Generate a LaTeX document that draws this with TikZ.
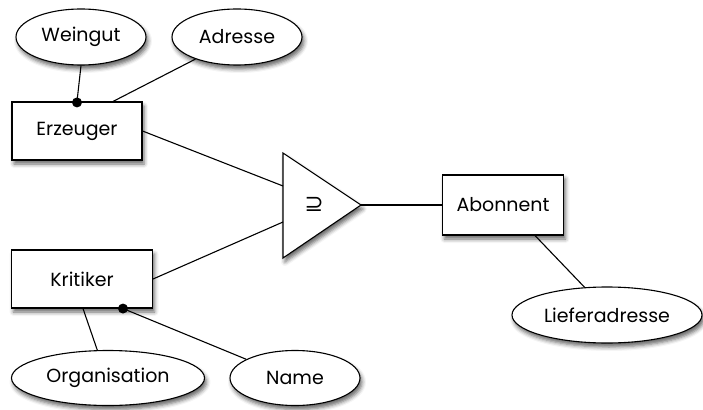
\documentclass[tikz,border=0pt]{standalone}
\usepackage{fontspec}
\setmainfont{Poppins}
\newfontfamily\symfont{DejaVu Sans}
\usetikzlibrary{shapes.geometric,shadows.blur}
\begin{document}
\begin{tikzpicture}[x=1pt,y=-1pt,
  every node/.style={font=\fontsize{19}{22}\selectfont},
  soft/.style={blur shadow={shadow xshift=2pt,shadow yshift=-4pt,shadow blur radius=4pt,shadow opacity=60}},
  entity/.style={rectangle,draw,fill=white,line width=1.1pt,minimum width=#1,minimum height=58pt,inner sep=0pt,soft},
  attrib/.style={ellipse,draw,fill=white,line width=1.1pt,minimum width=#1,minimum height=56pt,inner sep=0pt,soft},
  link/.style={line width=1.1pt},
  dot/.style={fill=black}]
\useasboundingbox (0,0) rectangle (703,409);

% entities
\node[entity=130pt] (erz) at (77,131) {Erzeuger};
\node[entity=141pt] (krit) at (82,279) {Kritiker};
\node[entity=121pt,minimum height=60pt] (abo) at (503,205) {Abonnent};

% attributes
\node[attrib=130pt] (wein) at (81,37) {Weingut};
\node[attrib=130pt] (adr) at (237,37) {Adresse};
\node[attrib=193pt,minimum height=55pt] (org) at (108,378) {Organisation};
\node[attrib=130pt,minimum height=55pt] (name) at (295,378) {Name};
\node[attrib=190pt] (lief) at (607,315) {Lieferadresse};

% union triangle
\coordinate (t1) at (283,153);
\coordinate (tapex) at (361,205);
\coordinate (t3) at (283,258);
\coordinate (ta) at (283,186);
\coordinate (tb) at (283,222);
\draw[fill=white,line width=1.1pt,soft] (t1) -- (tapex) -- (t3) -- cycle;
\node (sym) at (314,204) {\symfont\fontsize{23}{25}\selectfont ⊇};

% connectors
\draw[link] (wein.south) -- (erz.north);
\fill[dot] ([yshift=-1pt]erz.north) circle (5pt);
\draw[link] (adr.208) -- ([xshift=36pt]erz.north);
\draw[link] (erz.east) -- (ta);
\draw[link] (krit.east) -- (tb);
\draw[link] (tapex) -- (abo.west);
\draw[link] ([xshift=1pt]krit.south) -- (org.111);
\coordinate (kd) at ([xshift=41pt]krit.south);
\draw[link] (kd) -- (name.159);
\fill[dot] (kd) circle (5pt);
\draw[link] ([xshift=32pt]abo.south) -- (lief.129);
\end{tikzpicture}
\end{document}
